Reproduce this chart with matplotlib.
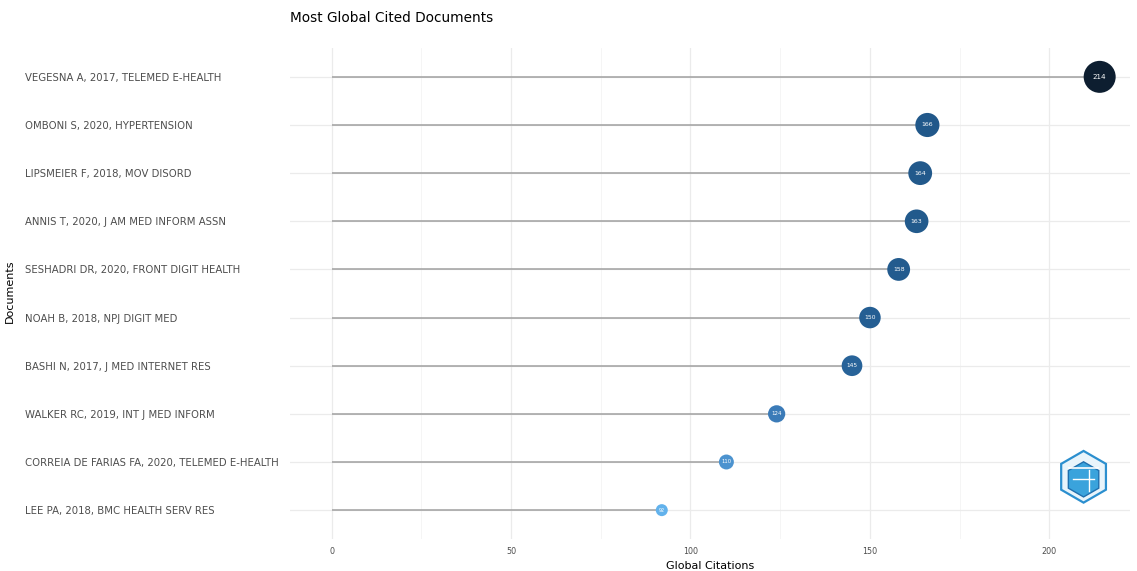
import matplotlib.pyplot as plt
import numpy as np
from matplotlib.colors import LinearSegmentedColormap
from matplotlib.patches import RegularPolygon

documents = [
    "VEGESNA A, 2017, TELEMED E-HEALTH",
    "OMBONI S, 2020, HYPERTENSION",
    "LIPSMEIER F, 2018, MOV DISORD",
    "ANNIS T, 2020, J AM MED INFORM ASSN",
    "SESHADRI DR, 2020, FRONT DIGIT HEALTH",
    "NOAH B, 2018, NPJ DIGIT MED",
    "BASHI N, 2017, J MED INTERNET RES",
    "WALKER RC, 2019, INT J MED INFORM",
    "CORREIA DE FARIAS FA, 2020, TELEMED E-HEALTH",
    "LEE PA, 2018, BMC HEALTH SERV RES",
]
citations = [214, 166, 164, 163, 158, 150, 145, 124, 110, 92]
x_ticks = [0, 50, 100, 150, 200]

# reversed blue gradient, light for few citations, navy for many
cmap = LinearSegmentedColormap.from_list(
    "blues",
    [(0.0, "#62b2ec"), (0.26, "#3b7bb8"), (0.47, "#245e93"),
     (0.62, "#215889"), (1.0, "#0d1e30")],
)

values = np.array(citations)
t = (values - values.min()) / (values.max() - values.min())
diam_px = 12 + 20 * t
sizes = (diam_px * 0.72) ** 2

fig = plt.figure(figsize=(11.37, 5.71), dpi=100)
ax = fig.add_axes([0.255, 0.056, 0.739, 0.86])

y = np.arange(1, len(documents) + 1)

# grid
for v in x_ticks:
    ax.axvline(v, color="#ebebeb", linewidth=0.9, zorder=0)
for v in np.arange(25, 225, 50):
    ax.axvline(v, color="#f4f4f4", linewidth=0.6, zorder=0)
for yy in y:
    ax.axhline(yy, color="#ebebeb", linewidth=0.9, zorder=0)

# lollipops
ax.hlines(y, 0, values, color="#a0a0a0", linewidth=1.1, zorder=1)
ax.scatter(values, y, s=sizes, c=t, cmap=cmap, vmin=0, vmax=1, zorder=2, edgecolors="none")
for v, yy, d in zip(values, y, diam_px):
    ax.text(v, yy, str(v), color="white", fontsize=2.5 + d / 12, ha="center", va="center", zorder=3)

ax.set_xlim(-11.6, 222.5)
ax.set_ylim(len(documents) + 0.6, 0.4)
ax.set_xticks(x_ticks)
ax.set_xticklabels([str(v) for v in x_ticks], fontsize=5.8, color="#4d4d4d")
ax.set_yticks(y)
ax.set_yticklabels(documents, fontsize=7.3, color="#4d4d4d")
for lab in ax.get_yticklabels():
    lab.set_horizontalalignment("left")
ax.tick_params(axis="y", pad=191, length=0)
ax.tick_params(axis="x", length=0, pad=6)
for s in ax.spines.values():
    s.set_visible(False)

ax.set_xlabel("Global Citations", fontsize=8, labelpad=3)
fig.text(0.009, 0.49, "Documents", rotation=90, fontsize=8, ha="center", va="center")
fig.text(0.255, 0.968, "Most Global Cited Documents", fontsize=9.8, ha="left", va="center")

# small hexagon logo in the bottom right corner
logo = fig.add_axes([0.928, 0.115, 0.05, 0.1])
logo.set_aspect("equal")
logo.set_xlim(-1.1, 1.1)
logo.set_ylim(-1.1, 1.1)
logo.axis("off")
logo.add_patch(RegularPolygon((0, 0), numVertices=6, radius=1.0, orientation=0,
                              facecolor="#e8f4fb", edgecolor="#2b8fcf", linewidth=1.6))
logo.add_patch(RegularPolygon((0, -0.1), numVertices=6, radius=0.68, orientation=0,
                              facecolor="#3aa3dc", edgecolor="#1f6fae", linewidth=1.0))
logo.plot([-0.55, 0.55], [0.35, 0.35], color="white", linewidth=1.2)
logo.plot([-0.4, 0.4], [-0.1, -0.1], color="white", linewidth=1.0)
logo.plot([0.2, 0.2], [-0.55, 0.25], color="white", linewidth=1.0)

fig.savefig("out.png", dpi=100, facecolor="white")
